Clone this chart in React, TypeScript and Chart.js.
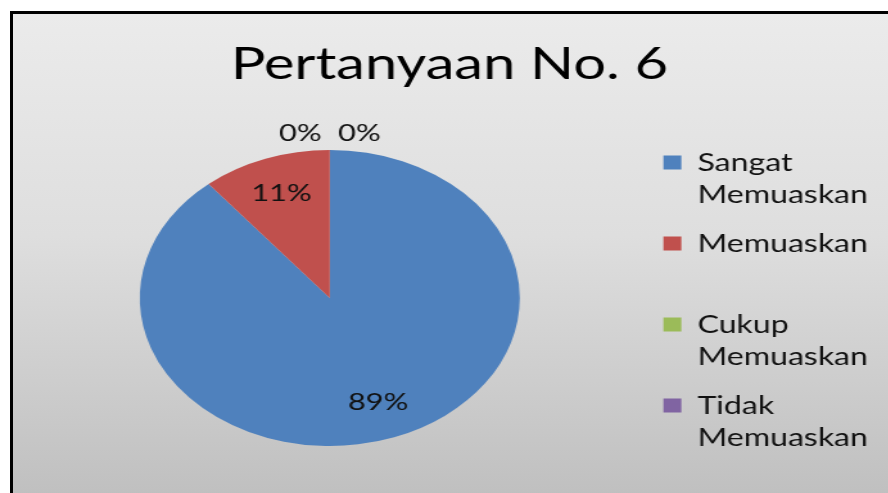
import React, { useEffect, useRef } from "react";
import { Chart, registerables } from "chart.js";

Chart.register(...registerables);

// ---- data ----
const categories: string[][] = [
  ["Sangat", "Memuaskan"],
  ["Memuaskan"],
  ["Cukup", "Memuaskan"],
  ["Tidak", "Memuaskan"],
];
const values: number[] = [89, 11, 0, 0];
const colors: string[] = ["#4f81bd", "#c0504d", "#9bbb59", "#8064a2"];
const titleText = "Pertanyaan No. 6";

// ---- layout constants ----
const SX = 1.284; // horizontal stretch of the original picture
const CW = 692;
const CH = 493;
const FONT = "Lato";

const pctLabelPlugin = {
  id: "pctLabels",
  afterDatasetsDraw(chart: any) {
    const meta = chart.getDatasetMeta(0);
    const total = values.reduce((a, b) => a + b, 0);
    const ctx = chart.ctx;
    ctx.save();
    ctx.font = `24px ${FONT}`;
    ctx.fillStyle = "#111";
    ctx.textAlign = "center";
    ctx.textBaseline = "middle";
    let zeroCount = 0;
    meta.data.forEach((arc: any, i: number) => {
      const p = arc.getProps(["x", "y", "startAngle", "endAngle", "outerRadius"], true);
      const mid = (p.startAngle + p.endAngle) / 2;
      const txt = Math.round((values[i] / total) * 100) + "%";
      if (values[i] === 0) {
        const r = p.outerRadius + 17;
        const side = zeroCount === 0 ? -1 : 1;
        zeroCount++;
        ctx.fillText(txt, p.x + Math.cos(mid) * r + side * 23, p.y + Math.sin(mid) * r);
      } else {
        const r = p.outerRadius * 0.75;
        ctx.fillText(txt, p.x + Math.cos(mid) * r, p.y + Math.sin(mid) * r);
      }
    });
    ctx.restore();
  },
};

export default function App() {
  const ref = useRef<HTMLCanvasElement | null>(null);

  useEffect(() => {
    if (!ref.current) return;
    const chart = new Chart(ref.current, {
      type: "pie",
      data: {
        labels: categories as any,
        datasets: [
          {
            data: values,
            backgroundColor: colors,
            borderWidth: 0,
            radius: 148,
          } as any,
        ],
      },
      plugins: [pctLabelPlugin],
      options: {
        responsive: false,
        animation: false,
        devicePixelRatio: 1,
        layout: { padding: { left: 14, right: 6, top: 0, bottom: 19 } },
        plugins: {
          title: {
            display: true,
            text: titleText,
            color: "#000",
            font: { family: FONT, size: 45, weight: "normal" },
            padding: { top: 37, bottom: 31 },
          },
          legend: {
            position: "right",
            align: "end",
            labels: {
              boxWidth: 14,
              boxHeight: 14,
              padding: 17,
              color: "#111",
              font: { family: FONT, size: 25, lineHeight: "32px" } as any,
              generateLabels: (c: any) =>
                categories.map((lines, i) => ({
                  text: lines.length < 2 ? [...lines, ""] : lines,
                  fillStyle: colors[i],
                  strokeStyle: colors[i],
                  lineWidth: 0,
                  hidden: false,
                  index: i,
                  fontColor: "#111",
                })),
            },
          },
          tooltip: { enabled: false },
        },
      },
    });
    return () => chart.destroy();
  }, []);

  return (
    <div
      style={{
        position: "absolute",
        left: 0,
        top: 0,
        width: 888,
        height: 493,
        overflow: "hidden",
        background: "#fff",
      }}
    >
      <div
        style={{
          position: "absolute",
          left: 10,
          top: 11,
          width: 900,
          height: 500,
          border: "3px solid #000",
          boxSizing: "border-box",
          background: "linear-gradient(to bottom, #ebebeb 0%, #dedede 45%, #bebebe 100%)",
        }}
      />
      <canvas
        ref={ref}
        width={CW}
        height={CH}
        style={{
          position: "absolute",
          left: 0,
          top: 0,
          transform: `scaleX(${SX})`,
          transformOrigin: "0 0",
        }}
      />
    </div>
  );
}
